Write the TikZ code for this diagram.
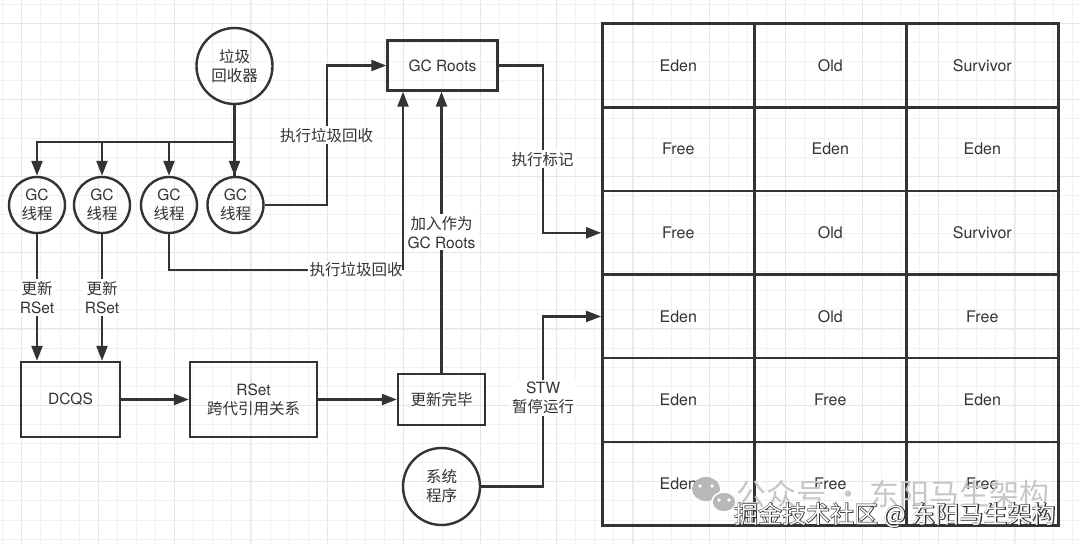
\documentclass[tikz,border=0pt]{standalone}
\usepackage{fontspec}
\setmainfont{TeX Gyre Heros}
\newfontfamily\cjk{Noto Sans CJK SC}
\newfontfamily\cjkbold[FakeBold=5]{Noto Sans CJK SC}
\usepackage{tikz}
\usetikzlibrary{arrows.meta,calc}
\definecolor{ink}{HTML}{333333}
\definecolor{paper}{HTML}{F1F1F1}
\definecolor{paperdark}{HTML}{E6E6E6}

\begin{document}
\begin{tikzpicture}[x=1pt, y=-1pt,
		every node/.style={text=ink, font=\fontsize{15.5}{19}\selectfont},
		box/.style={draw=ink, line width=2.4pt, rectangle, inner sep=0pt, align=center},
		ball/.style={draw=ink, line width=2.4pt, circle, inner sep=0pt, align=center},
		cell/.style={draw=ink, line width=2.4pt, rectangle, inner sep=0pt, minimum width=152pt, minimum height=83.65pt, font=\fontsize{16}{19}\selectfont},
		lbl/.style={fill=white, inner sep=2pt, align=center},
		arrow/.style={draw=ink, line width=2.2pt, -{Triangle[length=15pt,width=11pt]}},
		wire/.style={draw=ink, line width=2.2pt}]
			%%%%% START %%%%%
			
			\useasboundingbox (0, 0) rectangle (1080, 544);
			\fill[white] (0, 0) rectangle (1080, 544);
			
			% background paper
			\foreach \i in {-1,...,55} \draw[paper, line width=0.8pt] ({21.7+19.1*\i}, 0) -- ++(0, 544);
			\foreach \i in {-1,...,27} \draw[paper, line width=0.8pt] (0, {23.3+19.1*\i}) -- ++(1080, 0);
			\foreach \i in {0,...,13} \draw[paperdark, line width=1pt] ({21.7+76.4*\i}, 0) -- ++(0, 544);
			\foreach \i in {0,...,6} \draw[paperdark, line width=1pt] (0, {23.3+76.4*\i}) -- ++(1080, 0);
			
			% collector and threads
			\node[ball, minimum size=76pt] (collector) at (234.5, 66) {{\cjk 垃圾}\\{\cjk 回收器}};
			\node[ball, minimum size=56pt] (t1) at (37, 205) {GC\\{\cjk 线程}};
			\node[ball, minimum size=56pt] (t2) at (102, 205) {GC\\{\cjk 线程}};
			\node[ball, minimum size=56pt] (t3) at (169, 205) {GC\\{\cjk 线程}};
			\node[ball, minimum size=56pt] (t4) at (235.5, 205) {GC\\{\cjk 线程}};
			
			\node[box, minimum width=110pt, minimum height=50pt] (roots) at (442.5, 65.5) {GC Roots};
			\node[box, minimum width=99pt, minimum height=75pt] (dcqs) at (70.5, 399.5) {DCQS};
			\node[box, minimum width=127pt, minimum height=75pt] (rset) at (253.5, 399.5) {RSet\\{\cjk 跨代引用关系}};
			\node[box, minimum width=87pt, minimum height=51pt] (done) at (441.5, 399.5) {{\cjk 更新完毕}};
			\node[ball, minimum size=77pt] (sys) at (441.5, 486.5) {{\cjk 系统}\\{\cjk 程序}};
			
			% heap regions
			\foreach \row/\a/\b/\c in {1/Eden/Old/Survivor, 2/Free/Eden/Eden, 3/Free/Old/Survivor,
				4/Eden/Old/Free, 5/Eden/Free/Eden, 6/Eden/Free/Free} {
				\node[cell] (c\row1) at (678.3, {65.5+83.65*(\row-1)}) {\a};
				\node[cell] (c\row2) at (830.3, {65.5+83.65*(\row-1)}) {\b};
				\node[cell] (c\row3) at (982.3, {65.5+83.65*(\row-1)}) {\c};
			}
			
			% connectors
			\draw[wire] (collector.south) -- (t4.north -| collector.south);
			\draw[arrow] (collector.south) -- (t4.north -| collector.south);
			\foreach \t in {t1, t2, t3} \draw[arrow] (collector.south) -- ++(0, 37) -| (\t.north);
			
			\draw[arrow] (t4.east) -- ++(62, 0) |- (roots.west) node[lbl, pos=0.25] {{\cjk 执行垃圾回收}};
			
			\coordinate (bend) at (403, 270);
			\draw[wire] (t3.south) |- (bend) node[lbl, pos=0.9] {{\cjk 执行垃圾回收}};
			\draw[arrow] (bend) -- (bend |- roots.south);
			
			\draw[arrow] (done.north) -- (done.north |- roots.south) node[lbl, midway] {{\cjk 加入作为}\\GC Roots};
			
			\draw[arrow] (t1.south) -- (t1.south |- dcqs.north) node[lbl, midway] {{\cjk 更新}\\RSet};
			\draw[arrow] (t2.south) -- (t2.south |- dcqs.north) node[lbl, midway] {{\cjk 更新}\\RSet};
			
			\draw[arrow] (dcqs.east) -- (rset.west);
			\draw[arrow] (rset.east) -- (done.west);
			
			\draw[arrow] (roots.east) -- ++(44, 0) |- (c31.west) node[lbl, pos=0.28] {{\cjk 执行标记}};
			\draw[arrow] (sys.east) -- ++(62, 0) |- (c41.west) node[lbl, pos=0.26] {STW\\{\cjk 暂停运行}};
			
			% watermark
			\fill[black!28] (706, 489) ellipse (14 and 12);
			\draw[white, line width=1.5pt, fill=black!28] (724, 502) ellipse (12 and 10);
			\foreach \p in {(700,486), (712,486), (719,500), (729,500)} \fill[white] \p circle (1.8);
			\node[text=black!22, font=\fontsize{30}{30}\selectfont] (wm1) at (893, 494) {{\cjk 公众号 · 东阳马生架构}};
			\node[text=ink, font=\fontsize{24}{24}\selectfont] (wm2) at (895, 515) {{\cjkbold 掘金技术社区 @ 东阳马生架构}};
			\node[text=white, font=\fontsize{24}{24}\selectfont] (wm3) at (895, 515) {{\cjk 掘金技术社区 @ 东阳马生架构}};
			
			%%%%% END %%%%%
		\end{tikzpicture}
\end{document}
